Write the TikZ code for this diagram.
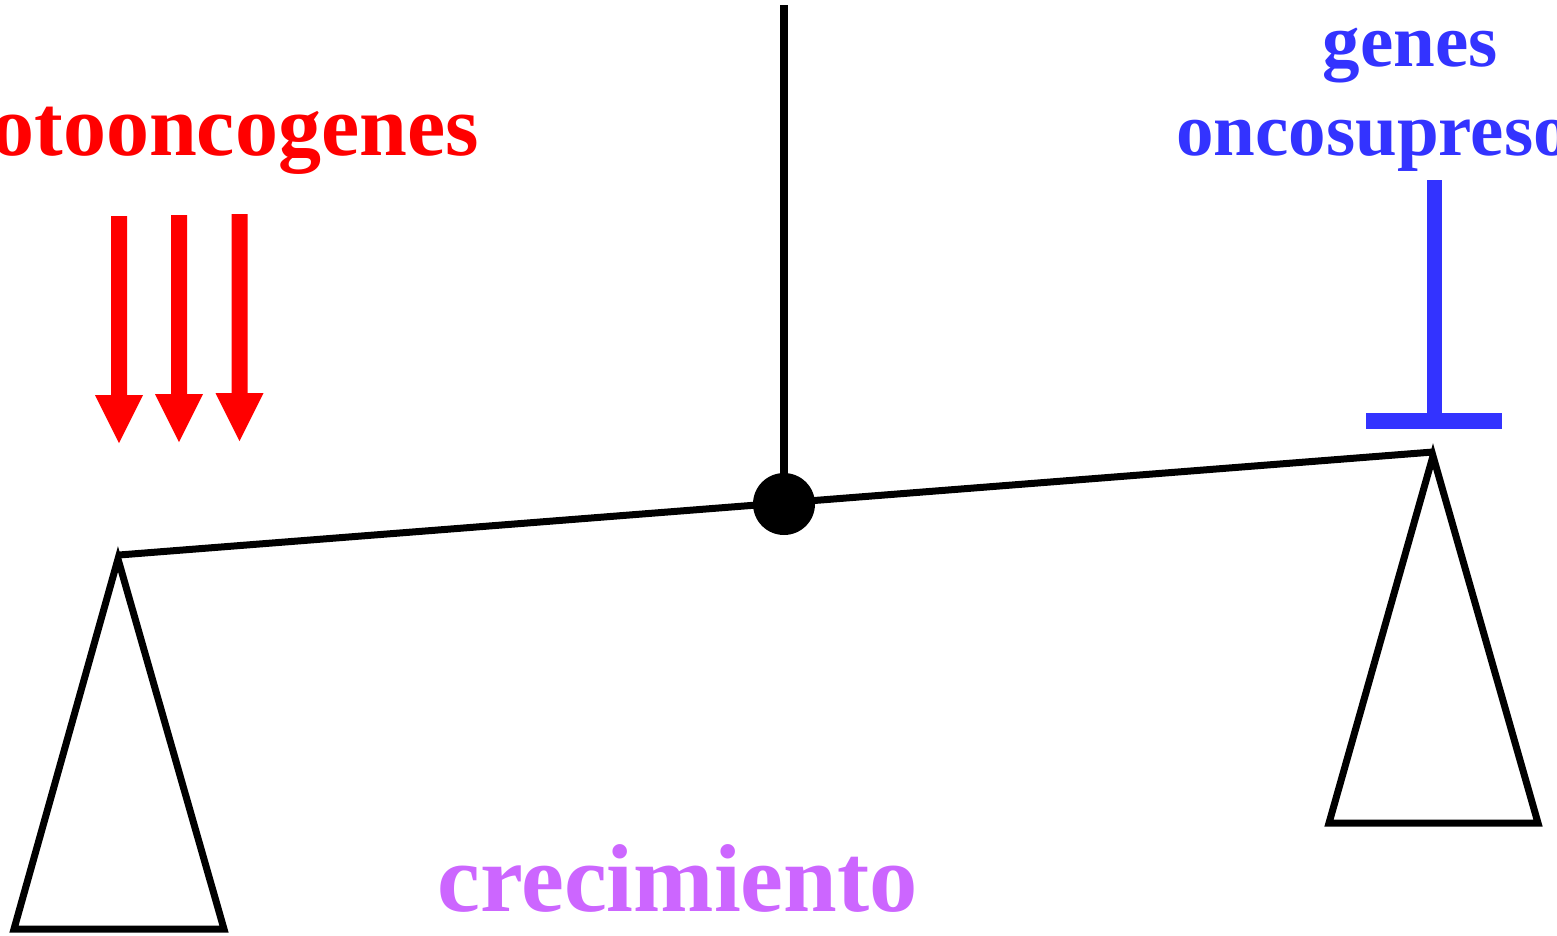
\documentclass[tikz,border=0pt]{standalone}
\usepackage{fontspec}
\setmainfont{Liberation Serif}
\definecolor{pred}{RGB}{255,0,0}
\definecolor{pblue}{RGB}{51,51,255}
\definecolor{ppurple}{RGB}{204,102,255}
\begin{document}
\begin{tikzpicture}[x=1pt,y=-1pt,
  lbl/.style={inner sep=0pt,font=\bfseries},
  beam/.style={line width=7pt,black},
  pan/.style={line width=7pt,black,line join=miter}]
\useasboundingbox (0,0) rectangle (1557,935);
% hanger and pivot
\coordinate (top) at (784,5);
\node[circle,fill=black,minimum size=62pt,inner sep=0pt] (pivot) at (784,504) {};
\draw[line width=8pt] (top) -- (pivot.center);
% beam
\coordinate (lend) at (119,555);
\coordinate (rend) at (1433,452);
\draw[beam] (lend) -- (rend);
% pans
\draw[pan] (118,559) -- (14,929) -- (224,929) -- cycle;
\draw[pan] (1433,456) -- (1329,823) -- (1538,823) -- cycle;
% red arrows
\foreach \cx/\ty/\hy in {119/216/395, 179/215/394, 239.5/214/393}{
  \fill[pred] (\cx-8,\ty) -- (\cx+8,\ty) -- (\cx+8,\hy) -- (\cx+24,\hy) -- (\cx,\hy+48) -- (\cx-24,\hy) -- (\cx-8,\hy) -- cycle;
}
% blue T bar
\fill[pblue] (1427,180) rectangle (1442,414);
\fill[pblue] (1366,413) rectangle (1502,429);
% texts
\node[lbl,pred,anchor=base east,font=\bfseries\fontsize{86}{90}\selectfont] (proto) at (479,155) {protooncogenes};
\node[lbl,pblue,anchor=base,font=\bfseries\fontsize{75}{80}\selectfont] (genes) at (1410,66) {genes};
\node[lbl,pblue,anchor=base west,font=\bfseries\fontsize{75}{80}\selectfont] (onco) at (1176,155) {oncosupresores};
\node[lbl,ppurple,anchor=base,font=\bfseries\fontsize{96.5}{100}\selectfont] (crec) at (677.5,911) {crecimiento};
\end{tikzpicture}
\end{document}
